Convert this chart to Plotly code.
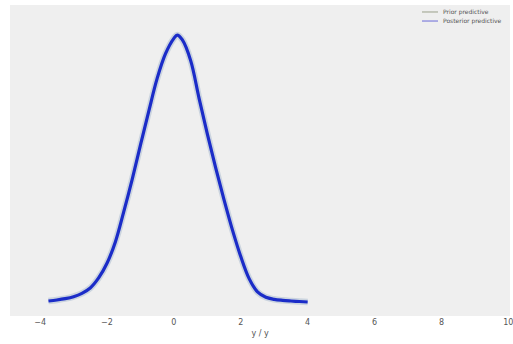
import plotly.graph_objects as go

# Posterior predictive density
x_vals = [-3.75, -3.5, -3.25, -3.0, -2.75, -2.5, -2.25, -2.0, -1.75, -1.5, -1.25, -1.0, -0.75, -0.5,
          -0.25, 0.0, 0.1, 0.25, 0.5, 0.75, 1.0, 1.25, 1.5, 1.75, 2.0, 2.25, 2.5, 2.75, 3.0, 3.25,
          3.5, 3.75, 4.0]
density = [0.0015, 0.003, 0.005, 0.008, 0.013, 0.021, 0.036, 0.058, 0.09, 0.135, 0.183, 0.235, 0.286, 0.335,
           0.372, 0.395, 0.400, 0.393, 0.362, 0.306, 0.252, 0.201, 0.153, 0.108, 0.068, 0.035, 0.015, 0.007,
           0.004, 0.0025, 0.0015, 0.0007, 0.0]

legend_labels = ["Prior predictive", "Posterior predictive"]
legend_colors = ["#9aa08a", "#6a6ad8"]
x_ticks = [-4, -2, 0, 2, 4, 6, 8, 10]

fig = go.Figure()

fig.add_trace(go.Scatter(x=x_vals, y=density, mode="lines", showlegend=False,
                         line=dict(color="rgba(40,90,150,0.18)", width=6.5, shape="spline"),
                         hoverinfo="skip"))
fig.add_trace(go.Scatter(x=x_vals, y=density, mode="lines", showlegend=False,
                         line=dict(color="#1b2cc8", width=3.2, shape="spline")))

# manual legend
for i, (lab, col) in enumerate(zip(legend_labels, legend_colors)):
    yy = 0.9775 - i * 0.029
    fig.add_shape(type="line", xref="paper", yref="paper", x0=0.824, x1=0.856, y0=yy, y1=yy,
                  line=dict(color=col, width=1))
    fig.add_annotation(xref="paper", yref="paper", x=0.862, y=yy, text=lab, showarrow=False,
                       xanchor="left", yanchor="middle", font=dict(size=6, color="#555"))

fig.update_layout(
    width=513, height=344,
    margin=dict(l=10, r=3, t=5, b=28),
    paper_bgcolor="white",
    plot_bgcolor="#efefef",
    showlegend=False,
    font=dict(family="DejaVu Sans", color="#555"),
)
fig.update_xaxes(range=[-4.9, 10.05], tickvals=x_ticks,
                 ticktext=["−4", "−2", "0", "2", "4", "6", "8", "10"],
                 showgrid=False, zeroline=False, showline=False, automargin=False,
                 ticklabeloverflow="allow",
                 tickfont=dict(size=8, color="#555"), ticks="",
                 title=dict(text="y / y", font=dict(size=8, color="#555"), standoff=4))
fig.update_yaxes(range=[-0.021, 0.445], showticklabels=False, showgrid=False,
                 zeroline=False, showline=False, ticks="", automargin=False)

fig.write_html("out.html", config={"displayModeBar": False},
               post_script="document.body.style.margin='0px';")
